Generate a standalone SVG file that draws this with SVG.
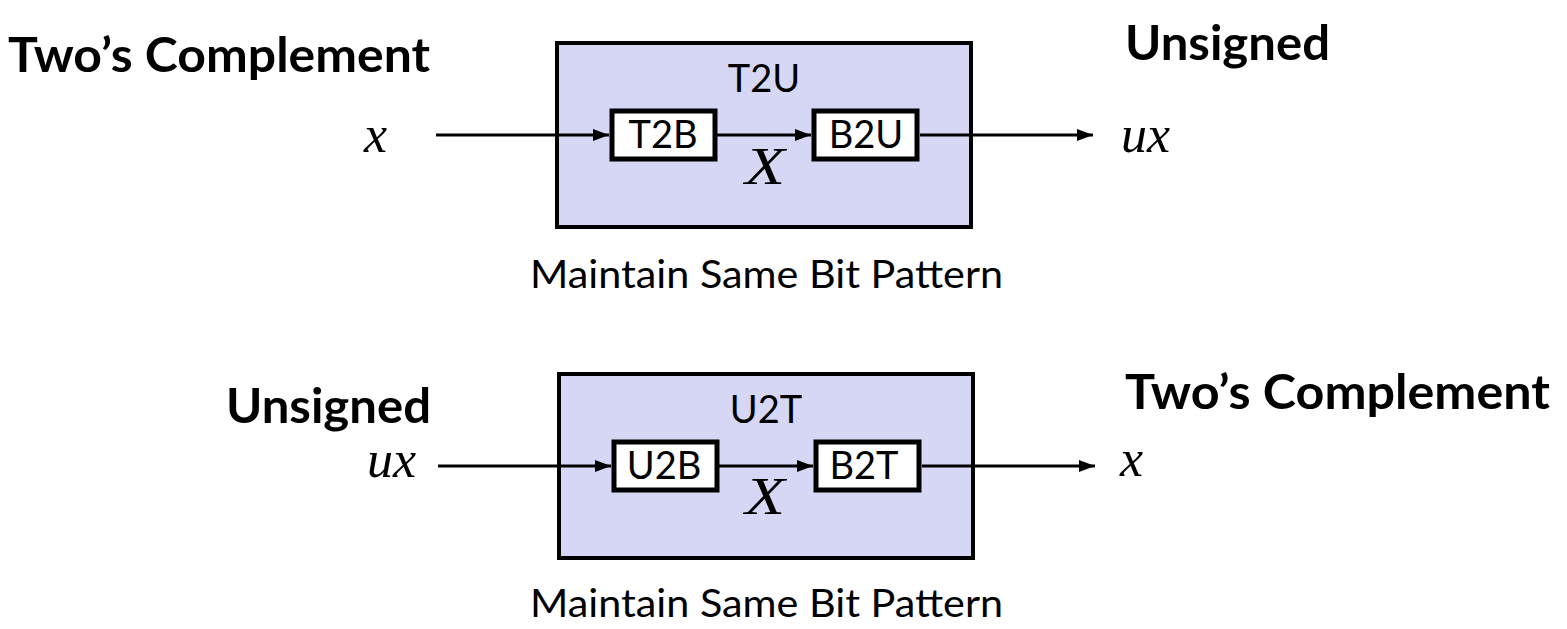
<svg xmlns="http://www.w3.org/2000/svg" width="1567" height="629" viewBox="0 0 1567 629">
<defs>
<marker id="ah" markerUnits="userSpaceOnUse" markerWidth="16" markerHeight="12" refX="16" refY="6" orient="auto"><path d="M0,0 L16,6 L0,12 z" fill="#000"/></marker>
<style>
.outer{fill:#D6D7F4;stroke:#000;stroke-width:4}
.inner{fill:#fff;stroke:#000;stroke-width:5}
.lbl{font-family:Lato,"Open Sans",sans-serif;font-size:38px;fill:#000;text-anchor:middle}
.head{font-family:Lato,"Open Sans",sans-serif;font-size:47px;font-weight:bold;fill:#000}
.var{font-family:"Liberation Serif","Times New Roman",serif;font-style:italic;font-size:52px;fill:#000}
.cap{font-family:Lato,"Open Sans",sans-serif;font-size:39px;fill:#000}
.conn{stroke:#000;stroke-width:3;fill:none;marker-end:url(#ah)}
</style>
</defs>
<rect width="1567" height="629" fill="#fff"/>
<g id="top-block">
<rect class="outer" x="557" y="43" width="414" height="184"/>
<text class="lbl" x="764" y="92">T2U</text>
</g>
<g id="T2B"><rect class="inner" x="612" y="111" width="103" height="48"/><text class="lbl" x="663" y="148">T2B</text></g>
<g id="B2U"><rect class="inner" x="814" y="111" width="103" height="48"/><text class="lbl" x="866" y="148">B2U</text></g>
<g id="bottom-block">
<rect class="outer" x="559" y="374" width="414" height="184"/>
<text class="lbl" x="766" y="423">U2T</text>
</g>
<g id="U2B"><rect class="inner" x="614" y="442" width="103" height="48"/><text class="lbl" x="664" y="479">U2B</text></g>
<g id="B2T"><rect class="inner" x="816" y="442" width="103" height="48"/><text class="lbl" x="864" y="479">B2T</text></g>
<g id="connectors">
<line class="conn" x1="436" y1="135" x2="609" y2="135"/>
<line class="conn" x1="717" y1="135" x2="811" y2="135"/>
<line class="conn" x1="920" y1="135" x2="1093" y2="135"/>
<line class="conn" x1="438" y1="466" x2="611" y2="466"/>
<line class="conn" x1="719" y1="466" x2="813" y2="466"/>
<line class="conn" x1="922" y1="466" x2="1095" y2="466"/>
</g>
<g id="labels">
<text class="head" x="8" y="72" textLength="422" lengthAdjust="spacingAndGlyphs">Two’s Complement</text>
<text class="head" x="1125" y="60" textLength="205" lengthAdjust="spacingAndGlyphs">Unsigned</text>
<text class="head" x="226" y="423" textLength="205" lengthAdjust="spacingAndGlyphs">Unsigned</text>
<text class="head" x="1125" y="409" textLength="425" lengthAdjust="spacingAndGlyphs">Two’s Complement</text>
<text class="var" x="364" y="152">x</text>
<text class="var" x="1121" y="152">ux</text>
<text class="var" x="367" y="477">ux</text>
<text class="var" x="1120" y="476">x</text>
<text class="var" x="745" y="184" textLength="40" lengthAdjust="spacingAndGlyphs">X</text>
<text class="var" x="745" y="514" textLength="40" lengthAdjust="spacingAndGlyphs">X</text>
<text class="cap" x="530" y="288" textLength="473" lengthAdjust="spacingAndGlyphs">Maintain Same Bit Pattern</text>
<text class="cap" x="530" y="617" textLength="473" lengthAdjust="spacingAndGlyphs">Maintain Same Bit Pattern</text>
</g>
</svg>
